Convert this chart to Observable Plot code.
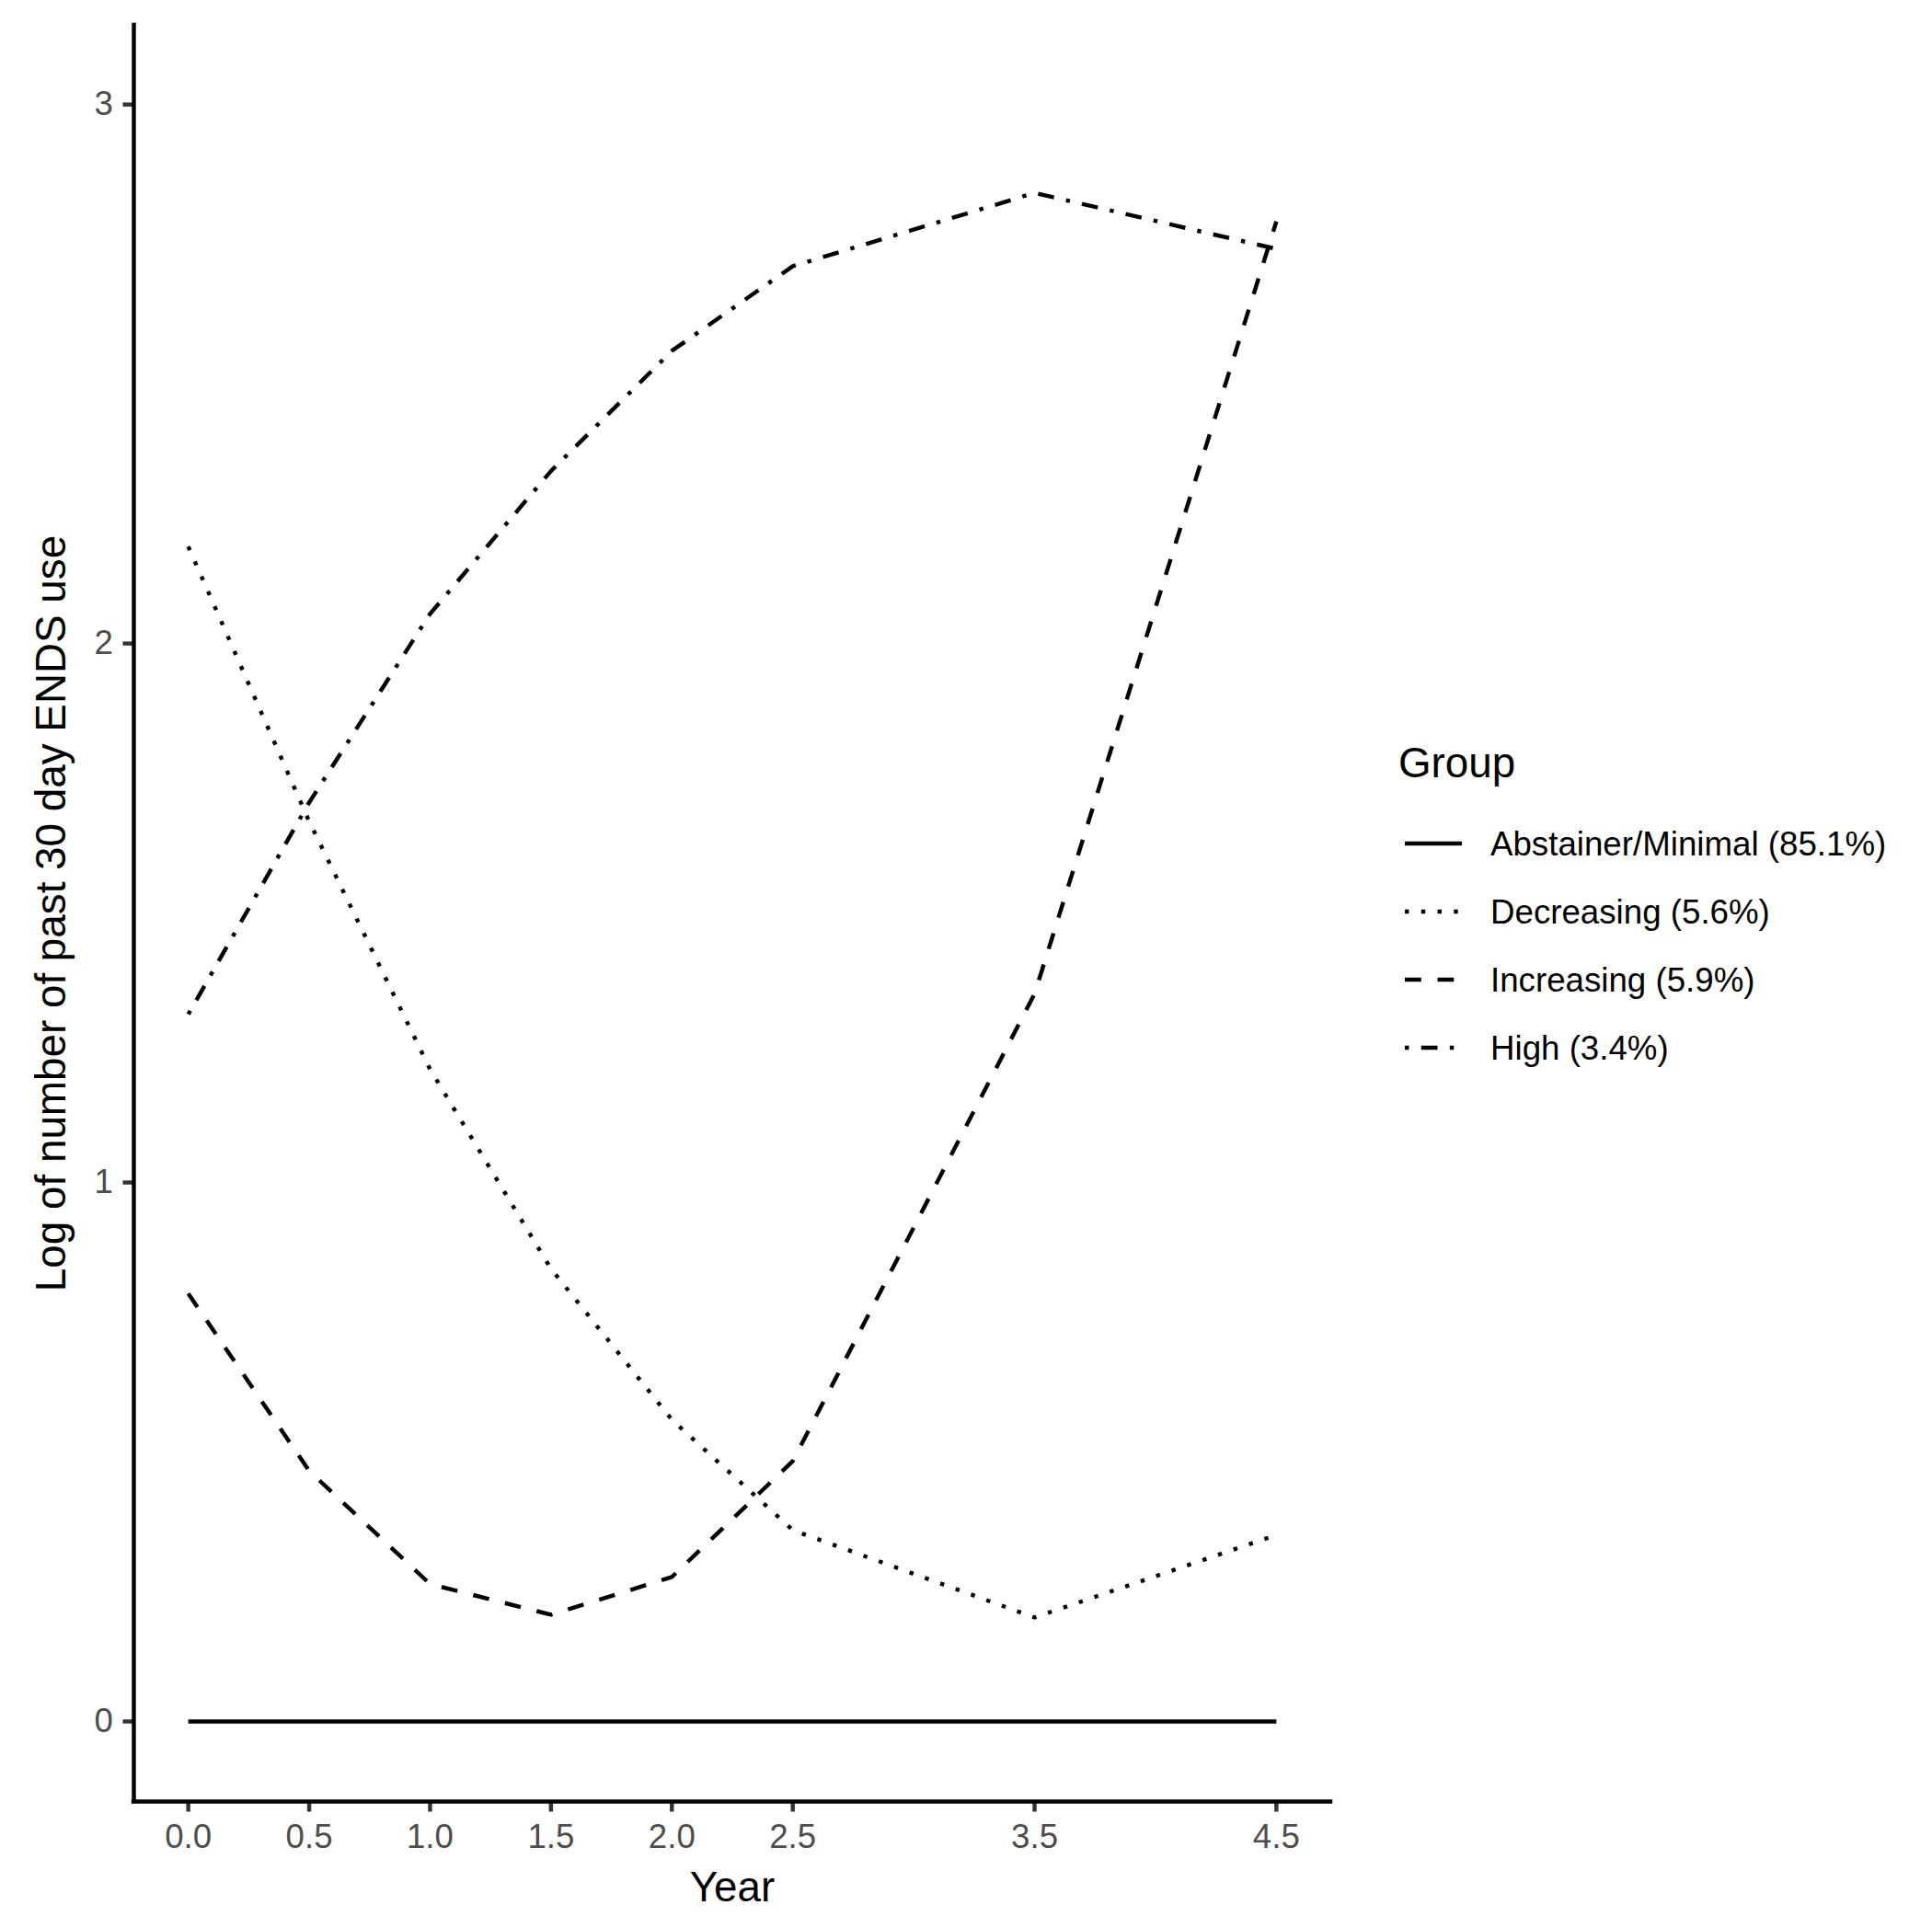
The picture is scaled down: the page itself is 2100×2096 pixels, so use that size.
<!DOCTYPE html>
<html><head><meta charset="utf-8">
<script src="https://cdn.jsdelivr.net/npm/d3@7"></script>
<script src="https://cdn.jsdelivr.net/npm/@observablehq/plot@0.6"></script>
<style>
html,body{margin:0;padding:0;background:#fff;}
#wrap{position:relative;width:2100px;height:2096px;font-family:"Liberation Sans",Arial,Helvetica,sans-serif;}
#chart{position:absolute;left:0;top:0;}
#legend{position:absolute;left:1460px;top:760px;}
</style></head><body>
<div id="wrap"><div id="chart"></div><svg id="legend" width="640" height="440"></svg></div>
<script>
// ---- data ----
const years = [0, 0.5, 1, 1.5, 2, 2.5, 3.5, 4.5];
const groupNames = ["Abstainer/Minimal (85.1%)", "Decreasing (5.6%)", "Increasing (5.9%)", "High (3.4%)"];
const abstainerValues  = [0, 0, 0, 0, 0, 0, 0, 0];
const decreasingValues = [2.18, 1.67, 1.21, 0.84, 0.56, 0.355, 0.193, 0.346];
const increasingValues = [0.794, 0.465, 0.255, 0.198, 0.268, 0.483, 1.35, 2.783];
const highValues       = [1.312, 1.705, 2.055, 2.32, 2.543, 2.70, 2.836, 2.732];
const xTickValues = [0, 0.5, 1, 1.5, 2, 2.5, 3.5, 4.5];
const yTickValues = [0, 1, 2, 3];
const xTitle = "Year";
const yTitle = "Log of number of past 30 day ENDS use";
const legendTitle = "Group";

// ---- styling ----
const seriesList = [abstainerValues, decreasingValues, increasingValues, highValues];
const lw = 4.44;
const dashes = [null, `${lw} ${3*lw}`, `${4*lw} ${4*lw}`, `${lw} ${3*lw} ${4*lw} ${3*lw}`];
const xDomain = [-0.225, 4.725];
const yDomain = [-0.1485, 3.147];
const font = '"Liberation Sans", Arial, Helvetica, sans-serif';

const rows = groupNames.flatMap((g, i) => years.map((yr, j) => ({year: yr, value: seriesList[i][j], group: g})));

const lineMarks = groupNames.map((g, i) => Plot.line(rows.filter(d => d.group === g), {
  x: "year", y: "value", stroke: "black", strokeWidth: lw,
  strokeDasharray: dashes[i] || undefined, strokeLinecap: "butt", strokeLinejoin: "round"
}));

const chart = Plot.plot({
  width: 1460, height: 2096,
  marginLeft: 145, marginRight: 14, marginTop: 27, marginBottom: 138,
  x: {domain: xDomain},
  y: {domain: yDomain},
  style: {fontFamily: font, background: "white", overflow: "visible"},
  marks: [
    Plot.axisX({ticks: xTickValues, tickFormat: d3.format(".1f"), tickSize: 11.5, tickPadding: 13,
      fontSize: 36.7, stroke: "#333333", fill: "#4d4d4d", strokeWidth: lw, label: null}),
    Plot.axisY({ticks: yTickValues, tickFormat: d3.format("d"), tickSize: 11.5, tickPadding: 11,
      fontSize: 36.7, stroke: "#333333", fill: "#4d4d4d", strokeWidth: lw, label: null}),
    Plot.ruleX([xDomain[0]], {stroke: "black", strokeWidth: lw, strokeLinecap: "square"}),
    Plot.ruleY([yDomain[0]], {stroke: "black", strokeWidth: lw, strokeLinecap: "square"}),
    ...lineMarks,
    Plot.text([xTitle], {frameAnchor: "bottom", textAnchor: "middle", lineAnchor: "middle", dy: 94, fontSize: 45.8, fill: "black"}),
    Plot.text([yTitle], {frameAnchor: "left", textAnchor: "middle", lineAnchor: "middle", rotate: -90, dx: -89, fontSize: 45.8, fill: "black"})
  ]
});
document.getElementById("chart").appendChild(chart);

// ---- legend ----
const leg = d3.select("#legend").style("font-family", font);
leg.append("text").attr("x", 60).attr("y", 85).attr("font-size", 45.8).attr("fill", "black").text(legendTitle);
const baselines = [170, 244, 318, 392];
groupNames.forEach((g, i) => {
  const yc = baselines[i] - 13;
  const ln = leg.append("line").attr("x1", 67).attr("x2", 129).attr("y1", yc).attr("y2", yc)
    .attr("stroke", "black").attr("stroke-width", lw).attr("stroke-linecap", "butt");
  if (dashes[i]) ln.attr("stroke-dasharray", dashes[i]);
  leg.append("text").attr("x", 160).attr("y", baselines[i]).attr("font-size", 36.7).attr("fill", "black").text(g);
});
</script></body></html>
